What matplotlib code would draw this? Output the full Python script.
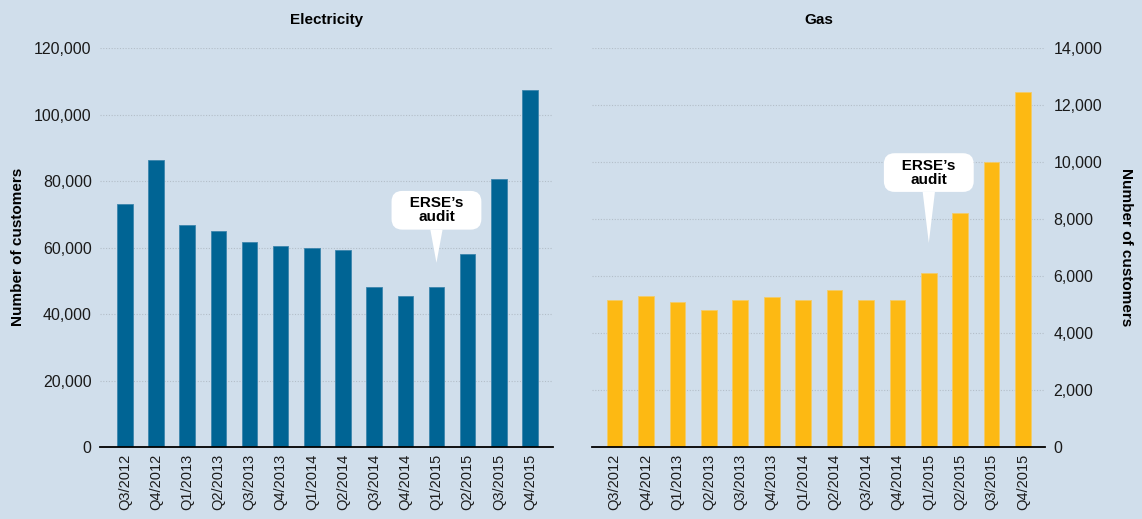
''' ERSE chart: customers per quarter, electricity vs gas '''
import matplotlib
matplotlib.use('Agg')
import matplotlib.pyplot as plt
from matplotlib import font_manager
from matplotlib.ticker import FuncFormatter

# ---- data ----
quarters = ['Q3/2012', 'Q4/2012', 'Q1/2013', 'Q2/2013', 'Q3/2013', 'Q4/2013',
            'Q1/2014', 'Q2/2014', 'Q3/2014', 'Q4/2014', 'Q1/2015', 'Q2/2015',
            'Q3/2015', 'Q4/2015']
electricity = [73000, 86200, 66800, 65000, 61800, 60500, 59900, 59300,
               48000, 45500, 48000, 58100, 80600, 107500]
gas = [5150, 5300, 5100, 4800, 5150, 5250, 5150, 5520,
       5150, 5150, 6100, 8220, 10000, 12470]
audit_idx = 10  # Q1/2015

# ---- style ----
BG = '#D0DEEB'
BLUE = '#006494'
YELLOW = '#FDB913'

installed = {f.name for f in font_manager.fontManager.ttflist}
fams = [f for f in ['Liberation Sans Narrow', 'Liberation Sans', 'DejaVu Sans'] if f in installed]
plt.rcParams['font.family'] = fams

fig = plt.figure(figsize=(11.42, 5.19), dpi=100, facecolor=BG)
ax_e = fig.add_axes([0.0876, 0.1387, 0.3966, 0.7688])
ax_g = fig.add_axes([0.5184, 0.1387, 0.3967, 0.7688])

thousands = FuncFormatter(lambda v, p: f'{int(v):,}')


def style_axis(ax, ymax, step, title, side):
    ax.set_facecolor(BG)
    for s in ax.spines.values():
        s.set_visible(False)
    ax.spines['bottom'].set_visible(True)
    ax.spines['bottom'].set_color('black')
    ax.spines['bottom'].set_linewidth(1.3)
    ax.set_ylim(0, ymax)
    ax.set_yticks(range(0, ymax + 1, step))
    ax.yaxis.set_major_formatter(thousands)
    ax.grid(axis='y', color='#B3BEC8', linestyle=(0, (1, 1.5)), linewidth=0.8)
    ax.set_axisbelow(True)
    ax.set_xticks(range(len(quarters)))
    ax.set_xticklabels(quarters, rotation=90)
    ax.tick_params(axis='y', length=0, labelsize=11.5, colors='#1a1a1a', pad=6)
    ax.tick_params(axis='x', length=0, labelsize=10.5, colors='#1a1a1a', pad=5)
    ax.set_title(title, fontsize=11, fontweight='bold', pad=17)
    if side == 'right':
        ax.yaxis.tick_right()


x = range(len(quarters))
ax_e.bar(x, electricity, width=0.5, color=BLUE, edgecolor='#3d85ad', linewidth=0.6)
ax_g.bar(x, gas, width=0.5, color=YELLOW, edgecolor='#f2cc6a', linewidth=0.6)

style_axis(ax_e, 120000, 20000, 'Electricity', 'left')
style_axis(ax_g, 14000, 2000, 'Gas', 'right')
ax_e.set_xlim(-0.8, 13.74)
ax_g.set_xlim(-0.72, 13.7)

fig.text(18 / 1142, 1 - 247 / 519, 'Number of customers', rotation=90,
         ha='center', va='center', fontsize=11, fontweight='bold')
fig.text(1126 / 1142, 1 - 247 / 519, 'Number of customers', rotation=-90,
         ha='center', va='center', fontsize=11, fontweight='bold')


def callout(ax, x, y_tip, y_box):
    ax.annotate('   ERSE’s   \naudit', xy=(x, y_tip), xytext=(x, y_box),
                ha='center', va='center', fontsize=11, fontweight='bold',
                linespacing=1.0, zorder=5,
                bbox=dict(boxstyle='round,pad=0.35,rounding_size=0.7', fc='white', ec='none'),
                arrowprops=dict(arrowstyle='wedge,tail_width=0.8,shrink_factor=0.5',
                                fc='white', ec='none', shrinkA=0, shrinkB=0))


callout(ax_e, audit_idx, 55400, 71200)
callout(ax_g, audit_idx, 7160, 9630)

fig.savefig('out.png', dpi=100, facecolor=BG)
